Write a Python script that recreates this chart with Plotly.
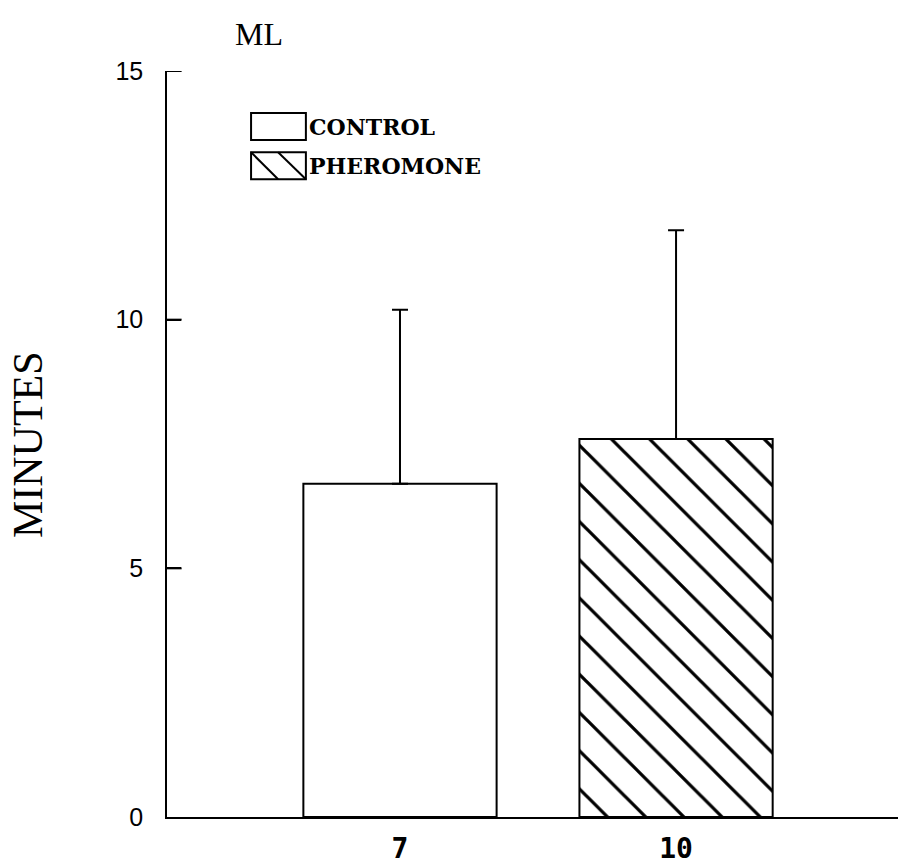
import plotly.graph_objects as go

groups = ["CONTROL", "PHEROMONE"]
categories = ["7", "10"]
means = [6.7, 7.6]
errors = [3.5, 4.2]
patterns = ["", "\\"]
y_ticks = [0, 5, 10, 15]

fig = go.Figure()
for g, c, m, e, p in zip(groups, categories, means, errors, patterns):
    fig.add_trace(go.Bar(
        x=[c], y=[m], name=g, width=0.7,
        marker=dict(color="white", line=dict(color="black", width=2),
                    pattern=dict(shape=p, size=27, solidity=0.12, fgcolor="black",
                                 bgcolor="white", fgopacity=1)),
        error_y=dict(type="data", array=[e], symmetric=False, arrayminus=[0],
                     color="black", thickness=2, width=8),
        showlegend=False,
    ))

fig.update_layout(
    width=898, height=866,
    margin=dict(l=167, r=0, t=71, b=49),
    plot_bgcolor="white", paper_bgcolor="white",
    xaxis=dict(type="category", categoryorder="array", categoryarray=categories,
               range=[-0.844, 1.804], showline=True, linecolor="black", linewidth=2,
               ticks="", showgrid=False, zeroline=False, ticklabelstandoff=5,
               tickfont=dict(family="DejaVu Sans Mono", size=28, color="black", weight="bold")),
    yaxis=dict(range=[0, 15], tickvals=y_ticks, showline=True, linecolor="black", linewidth=1.5,
               ticks="inside", ticklen=14, tickwidth=2, tickcolor="black",
               showgrid=False, zeroline=False, ticklabelstandoff=17,
               tickfont=dict(family="Liberation Sans", size=25, color="black")),
    bargap=0.3,
)

# inward tick marks (drawn explicitly so they sit over the plot area)
for v in y_ticks[1:]:
    fig.add_shape(type="line", xref="x domain", yref="y", x0=0, x1=0.02, y0=v, y1=v,
                  line=dict(color="black", width=2), layer="above")

# y-axis title
fig.add_annotation(text="MINUTES", xref="paper", yref="paper", x=-0.190, y=0.4987,
                   textangle=-90, showarrow=False,
                   font=dict(family="Liberation Serif", size=42, color="black"),
                   xanchor="center", yanchor="middle")
# panel label
fig.add_annotation(text="ML", xref="paper", yref="paper", x=0.126, y=1.0496,
                   showarrow=False, xanchor="center", yanchor="middle",
                   font=dict(family="Liberation Serif", size=32, color="black"))

# legend drawn manually
legend_y = [0.9256, 0.873]
for g, p, yy in zip(groups, patterns, legend_y):
    x0, x1, y0, y1 = 0.115, 0.190, yy - 0.018, yy + 0.018
    fig.add_shape(type="rect", xref="paper", yref="paper",
                  x0=x0, x1=x1, y0=y0, y1=y1,
                  line=dict(color="black", width=2), fillcolor="white")
    if p:
        fig.add_shape(type="line", xref="paper", yref="paper",
                      x0=x0, y0=y1, x1=x0 + 0.037, y1=y0, line=dict(color="black", width=2))
        fig.add_shape(type="line", xref="paper", yref="paper",
                      x0=x0 + 0.037, y0=y1, x1=x1, y1=y0, line=dict(color="black", width=2))
    fig.add_annotation(text="<b>" + g + "</b>", xref="paper", yref="paper", x=0.192, y=yy,
                       showarrow=False, xanchor="left", yanchor="middle",
                       font=dict(family="DejaVu Serif", size=22, color="black"))

fig.write_html("out.html")
